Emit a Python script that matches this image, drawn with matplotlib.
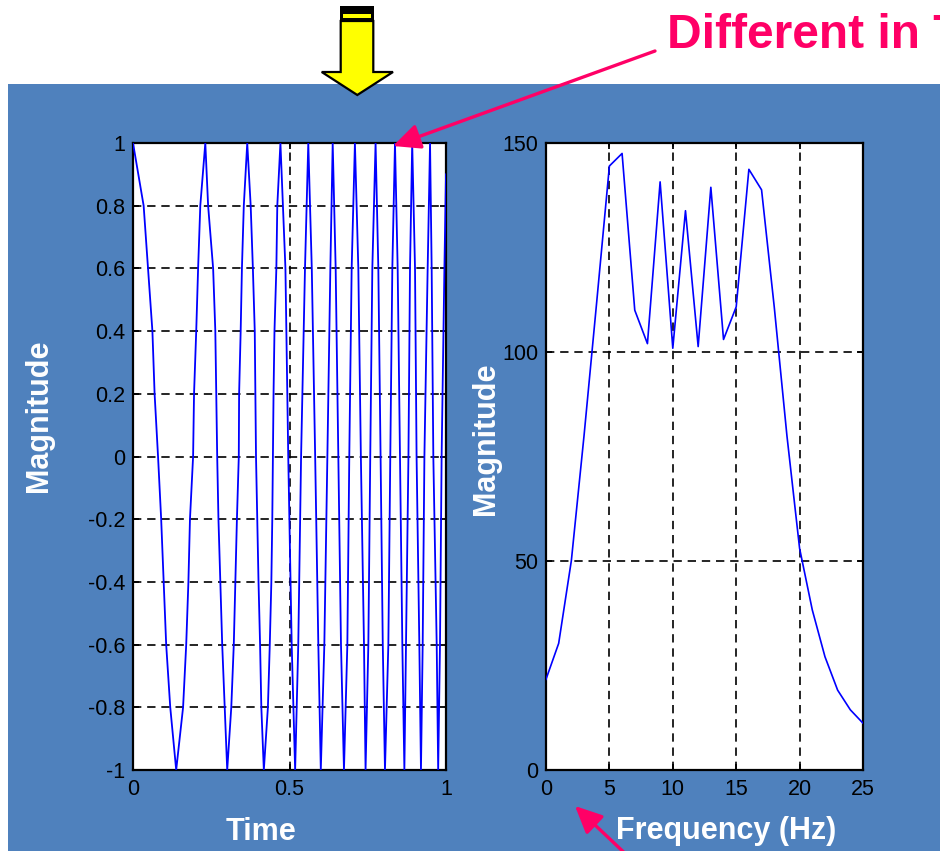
import matplotlib
matplotlib.use('Agg')
import matplotlib.pyplot as plt
from matplotlib.patches import Rectangle, Polygon, FancyArrowPatch

plt.rcParams['font.family'] = ['Liberation Sans', 'DejaVu Sans']

# ---------------- data ----------------
time_pts = [0.000, 0.034, 0.048, 0.062, 0.069, 0.080, 0.090, 0.098, 0.106, 0.119, 0.138,
            0.160, 0.170, 0.177, 0.182, 0.192, 0.195, 0.202, 0.208, 0.215, 0.231,
            0.240, 0.256, 0.263, 0.266, 0.269, 0.273, 0.279, 0.285, 0.293, 0.301,
            0.314, 0.322, 0.327, 0.332, 0.338, 0.339, 0.344, 0.348, 0.354, 0.365,
            0.376, 0.383, 0.389, 0.391, 0.393, 0.397, 0.401, 0.406, 0.410, 0.418,
            0.431, 0.437, 0.442, 0.445, 0.447, 0.449, 0.452, 0.458, 0.461, 0.471,
            0.487, 0.496, 0.507, 0.518,
            0.528, 0.537, 0.5495, 0.560,
            0.5712, 0.582, 0.5921, 0.600,
            0.6113, 0.621, 0.6305, 0.638,
            0.6475, 0.656, 0.6645, 0.674,
            0.6848, 0.691, 0.6986, 0.709,
            0.7199, 0.728, 0.738, 0.743,
            0.7519, 0.758, 0.7646, 0.775,
            0.7838, 0.791, 0.798, 0.805,
            0.8158, 0.822, 0.8285, 0.837,
            0.8456, 0.853, 0.8605, 0.867,
            0.8722, 0.880, 0.885, 0.892,
            0.901, 0.906, 0.9148, 0.920,
            0.9255, 0.931, 0.9414, 0.949,
            0.9542, 0.9595, 0.9703, 0.975,
            0.9808, 0.986, 0.9949, 1.000]
signal_pts = [1, 0.8, 0.6, 0.4, 0.2, 0, -0.2, -0.4, -0.6, -0.8, -1,
              -0.8, -0.6, -0.4, -0.2, 0, 0.2, 0.4, 0.6, 0.8, 1,
              0.8, 0.6, 0.4, 0.2, 0, -0.2, -0.4, -0.6, -0.8, -1,
              -0.8, -0.6, -0.4, -0.2, 0, 0.2, 0.4, 0.6, 0.8, 1,
              0.8, 0.6, 0.4, 0.2, 0, -0.2, -0.4, -0.6, -0.8, -1,
              -0.8, -0.6, -0.4, -0.2, 0, 0.2, 0.4, 0.6, 0.8, 1,
              0.6, 0, -0.6, -1,
              -0.6, 0, 0.6, 1,
              0.6, 0, -0.6, -1,
              -0.6, 0, 0.6, 1,
              0.6, 0, -0.6, -1,
              -0.6, 0, 0.6, 1,
              0.6, 0, -0.6, -1,
              -0.6, 0, 0.6, 1,
              0.6, 0, -0.6, -1,
              -0.6, 0, 0.6, 1,
              0.6, 0, -0.6, -1,
              -0.6, 0, 0.6, 1,
              0.6, 0, -0.6, -1,
              -0.6, 0, 0.6, 1,
              0.6, 0, -0.6, -1,
              -0.6, 0, 0.6, 0.9]

freq_hz = list(range(26))
spectrum = [21.7, 30.3, 50.1, 80.0, 112.0, 144.5, 147.5, 110.0, 102.0, 140.7,
            100.9, 133.8, 101.3, 139.4, 103.0, 110.8, 143.7, 138.8, 110.8, 80.0,
            53.0, 38.3, 27.1, 19.1, 14.4, 11.2]

time_ticks = [0, 0.5, 1]
time_ticklabels = ['0', '0.5', '1']
mag_ticks = [-1, -0.8, -0.6, -0.4, -0.2, 0, 0.2, 0.4, 0.6, 0.8, 1]
mag_ticklabels = ['-1', '-0.8', '-0.6', '-0.4', '-0.2', '0', '0.2', '0.4', '0.6', '0.8', '1']
freq_ticks = [0, 5, 10, 15, 20, 25]
freq_ticklabels = ['0', '5', '10', '15', '20', '25']
spec_ticks = [0, 50, 100, 150]
spec_ticklabels = ['0', '50', '100', '150']

title_text = 'Different in T'
pink = '#FF0066'
panel_color = '#4F81BD'

# ---------------- figure ----------------
W, H = 940, 851
fig = plt.figure(figsize=(W / 100, H / 100), dpi=100)
fig.patch.set_facecolor('white')


def fx(x):
    return x / W


def fy(y):
    return 1 - y / H


# blue slide panel
fig.add_artist(Rectangle((fx(8), 0), 1 - fx(8), fy(84), transform=fig.transFigure,
                         facecolor=panel_color, edgecolor='none', zorder=0))

# yellow block arrow
arrow_poly = [(340.7, 21), (373.3, 21), (373.3, 72), (393, 72), (357.3, 95),
              (321.7, 72), (340.7, 72)]
fig.add_artist(Polygon([(fx(x), fy(y)) for x, y in arrow_poly], closed=True,
                       transform=fig.transFigure, facecolor='#FFFF00',
                       edgecolor='black', linewidth=1.6, zorder=5))
fig.add_artist(Rectangle((fx(340), fy(21)), fx(374) - fx(340), fy(6) - fy(21),
                         transform=fig.transFigure, facecolor='black',
                         edgecolor='none', zorder=6))
fig.add_artist(Rectangle((fx(343), fy(17.5)), fx(371) - fx(343), fy(14) - fy(17.5),
                         transform=fig.transFigure, facecolor='#FFFF00',
                         edgecolor='none', zorder=7))

# pink title text (cut at the right edge, as in the original slide)
fig.text(fx(667), fy(48.3), title_text, color=pink, fontsize=34.5,
         fontweight='bold', ha='left', va='baseline', zorder=8)

# axes
ax1 = fig.add_axes([fx(133), fy(770), (446 - 133) / W, 627 / H])
ax2 = fig.add_axes([fx(546), fy(770), (863 - 546) / W, 627 / H])

for ax in (ax1, ax2):
    ax.set_facecolor('white')
    for s in ax.spines.values():
        s.set_linewidth(1.6)
        s.set_color('black')
    ax.tick_params(direction='in', length=4, width=1.3, top=True, right=True,
                   labelsize=15.5, colors='black')
    ax.tick_params(axis='x', pad=6.5)
    ax.tick_params(axis='y', pad=5.5)
    ax.grid(True, color='black', linestyle=(0, (5, 3.5)), linewidth=1.2)

ax1.plot(time_pts, signal_pts, color='#0000FF', linewidth=1.3, zorder=3)
ax1.set_xlim(0, 1)
ax1.set_ylim(-1, 1)
ax1.set_xticks(time_ticks)
ax1.set_xticklabels(time_ticklabels)
ax1.set_yticks(mag_ticks)
ax1.set_yticklabels(mag_ticklabels)

ax2.plot(freq_hz, spectrum, color='#0000FF', linewidth=1.2, zorder=3)
ax2.set_xlim(0, 25)
ax2.set_ylim(0, 150)
ax2.set_xticks(freq_ticks)
ax2.set_xticklabels(freq_ticklabels)
ax2.set_yticks(spec_ticks)
ax2.set_yticklabels(spec_ticklabels)

# axis labels (white, bold)
lab = dict(color='white', fontsize=22, fontweight='bold')
fig.text(fx(47), fy(416), 'Magnitude', rotation=90, ha='center', va='baseline',
         rotation_mode='anchor', **lab)
fig.text(fx(494), fy(439), 'Magnitude', rotation=90, ha='center', va='baseline',
         rotation_mode='anchor', **lab)
fig.text(fx(261.5), fy(840), 'Time', ha='center', va='baseline', **lab)
fig.text(fx(726), fy(839), 'Frequency (Hz)', ha='center', va='baseline', **lab)

# pink pointer arrows
style = "-|>,head_length=0.75,head_width=0.35"
fig.add_artist(FancyArrowPatch((fx(655), fy(51)), (fx(393), fy(146)),
                               transform=fig.transFigure, arrowstyle=style,
                               mutation_scale=22, color=pink, linewidth=2.4,
                               shrinkA=0, shrinkB=0, zorder=10))
fig.add_artist(FancyArrowPatch((fx(632), fy(860)), (fx(575), fy(806)),
                               transform=fig.transFigure, arrowstyle=style,
                               mutation_scale=22, color=pink, linewidth=2.4,
                               shrinkA=0, shrinkB=0, zorder=10))

fig.savefig('out.png', dpi=100, facecolor='white')
